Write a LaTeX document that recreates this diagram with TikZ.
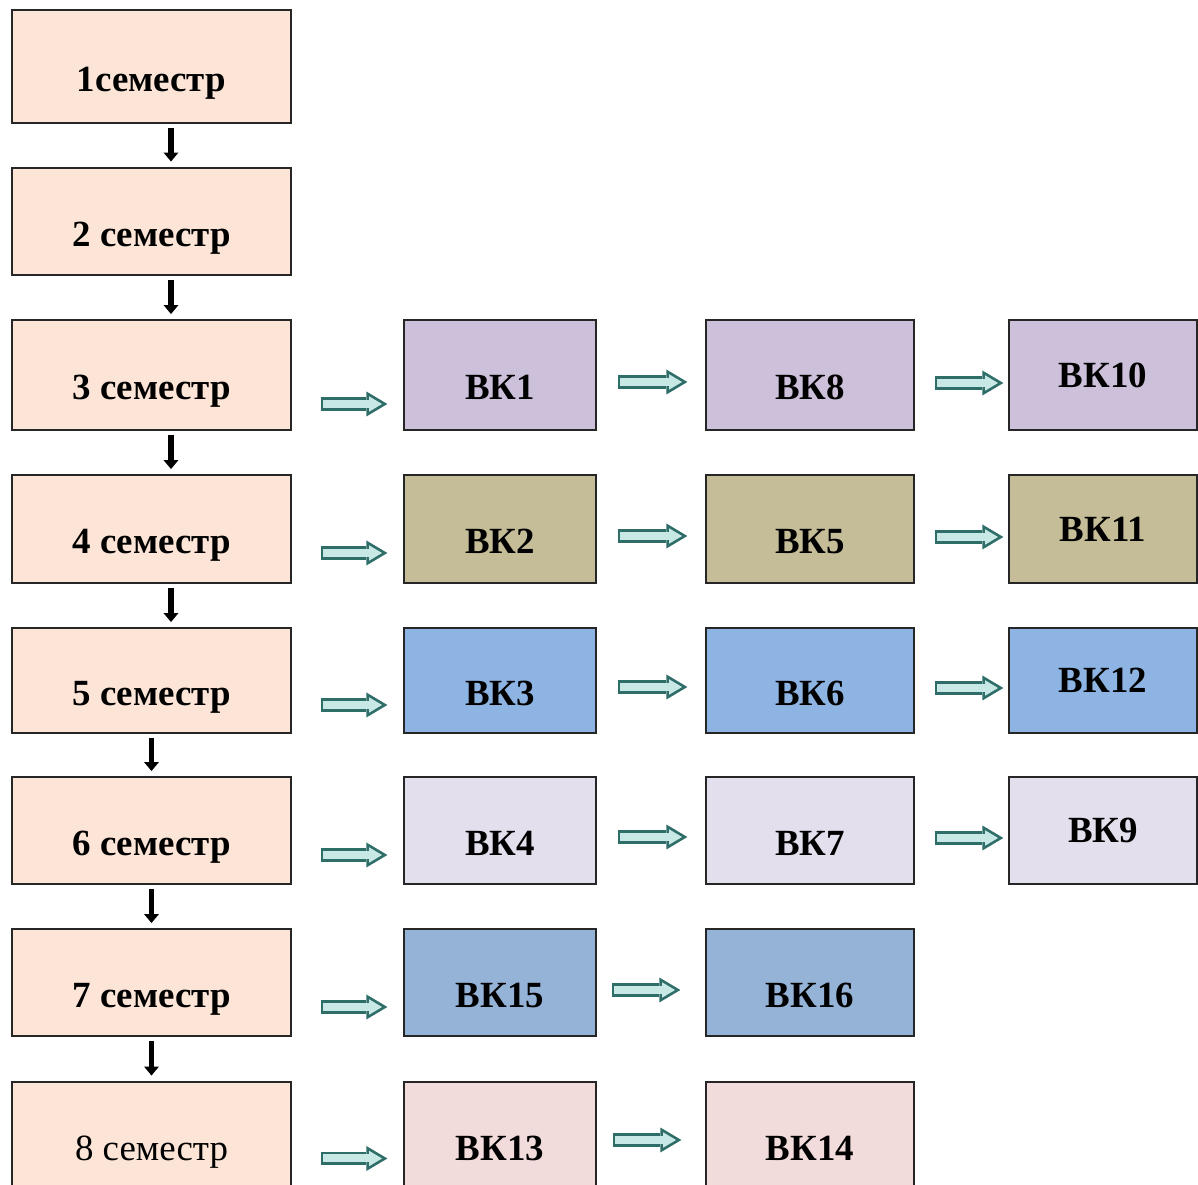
\documentclass[tikz,border=0pt]{standalone}
\usepackage{fontspec}
\setmainfont{Liberation Serif}
\usetikzlibrary{arrows.meta}

\definecolor{sempeach}{HTML}{FCE4D6}
\definecolor{vklilac}{HTML}{CCC0DA}
\definecolor{vkkhaki}{HTML}{C4BD97}
\definecolor{vkblue}{HTML}{8DB4E2}
\definecolor{vklavender}{HTML}{E4DFEC}
\definecolor{vksteel}{HTML}{95B3D7}
\definecolor{vkpink}{HTML}{F2DCDB}
\definecolor{flowedge}{HTML}{2F6D69}
\definecolor{flowfill}{HTML}{C8E8E6}

\tikzset{
  cell/.style={draw=black!85, line width=0.04cm, minimum height=2.16cm, inner sep=0pt,
    font=\fontsize{21}{25}\selectfont\bfseries},
  lowtext/.style={text height=1cm, text depth=0pt},
  semester/.style={cell, lowtext, fill=sempeach, minimum width=5.58cm},
  vkA/.style={cell, lowtext, minimum width=3.84cm},
  vkB/.style={cell, lowtext, minimum width=4.16cm},
  vkC/.style={cell, minimum width=3.76cm},
  semarrow/.style={line width=0.11cm, -{Triangle[length=0.18cm,width=0.3cm,line width=0pt]},
    shorten <=0.08cm, shorten >=0.1cm},
  flow/.style={draw=flowfill, line width=0.16cm,
    -{Triangle[length=0.26cm,width=0.31cm,line width=0pt]},
    preaction={draw=flowedge, line width=0.27cm, shorten <=-0.055cm, shorten >=-0.107cm,
      -{Triangle[length=0.42cm,width=0.5cm,line width=0pt]}}}
}

\begin{document}
\begin{tikzpicture}[x=0.02cm, y=-0.02cm]
\useasboundingbox (0,0) rectangle (1198,1185);

% semesters
\node[semester, minimum height=2.26cm] (s1) at (151.5,66.5) {1семестр};
\node[semester] (s2) at (151.5,221.5) {2 семестр};
\node[semester, minimum height=2.2cm] (s3) at (151.5,375) {3 семестр};
\node[semester] (s4) at (151.5,529) {4 семестр};
\node[semester, minimum height=2.1cm] (s5) at (151.5,680.5) {5 семестр};
\node[semester, minimum height=2.14cm] (s6) at (151.5,830.5) {6 семестр};
\node[semester, minimum height=2.14cm] (s7) at (151.5,982.5) {7 семестр};
\node[semester, font=\fontsize{21}{25}\selectfont] (s8) at (151.5,1135.5) {8 семестр};

\draw[semarrow] ([xshift=0.39cm]s1.south) -- ([xshift=0.39cm]s2.north);
\draw[semarrow] ([xshift=0.39cm]s2.south) -- ([xshift=0.39cm]s3.north);
\draw[semarrow] ([xshift=0.39cm]s3.south) -- ([xshift=0.39cm]s4.north);
\draw[semarrow] ([xshift=0.39cm]s4.south) -- ([xshift=0.39cm]s5.north);
\draw[semarrow] (s5.south) -- (s6.north);
\draw[semarrow] (s6.south) -- (s7.north);
\draw[semarrow] (s7.south) -- (s8.north);

% elective courses
\node[vkA, fill=vklilac, minimum height=2.2cm] (vk1) at (500,375) {ВК1};
\node[vkB, fill=vklilac, minimum height=2.2cm] (vk8) at (810,375) {ВК8};
\node[vkC, fill=vklilac, minimum height=2.2cm] (vk10) at (1103,375) {ВК10};

\node[vkA, fill=vkkhaki] (vk2) at (500,529) {ВК2};
\node[vkB, fill=vkkhaki] (vk5) at (810,529) {ВК5};
\node[vkC, fill=vkkhaki] (vk11) at (1103,529) {ВК11};

\node[vkA, fill=vkblue, minimum height=2.1cm] (vk3) at (500,680.5) {ВК3};
\node[vkB, fill=vkblue, minimum height=2.1cm] (vk6) at (810,680.5) {ВК6};
\node[vkC, fill=vkblue, minimum height=2.1cm] (vk12) at (1103,680.5) {ВК12};

\node[vkA, fill=vklavender, minimum height=2.14cm] (vk4) at (500,830.5) {ВК4};
\node[vkB, fill=vklavender, minimum height=2.14cm] (vk7) at (810,830.5) {ВК7};
\node[vkC, fill=vklavender, minimum height=2.14cm] (vk9) at (1103,830.5) {ВК9};

\node[vkA, fill=vksteel, minimum height=2.14cm] (vk15) at (500,982.5) {ВК15};
\node[vkB, fill=vksteel, minimum height=2.14cm] (vk16) at (810,982.5) {ВК16};

\node[vkA, fill=vkpink] (vk13) at (500,1135.5) {ВК13};
\node[vkB, fill=vkpink] (vk14) at (810,1135.5) {ВК14};

% semester -> first course
\draw[flow] ([xshift=0.63cm,yshift=-0.58cm]s3.east) -- ([xshift=-0.42cm,yshift=-0.58cm]vk1.west);
\draw[flow] ([xshift=0.63cm,yshift=-0.48cm]s4.east) -- ([xshift=-0.42cm,yshift=-0.48cm]vk2.west);
\draw[flow] ([xshift=0.63cm,yshift=-0.49cm]s5.east) -- ([xshift=-0.42cm,yshift=-0.49cm]vk3.west);
\draw[flow] ([xshift=0.63cm,yshift=-0.49cm]s6.east) -- ([xshift=-0.42cm,yshift=-0.49cm]vk4.west);
\draw[flow] ([xshift=0.63cm,yshift=-0.49cm]s7.east) -- ([xshift=-0.42cm,yshift=-0.49cm]vk15.west);
\draw[flow] ([xshift=0.63cm,yshift=-0.46cm]s8.east) -- ([xshift=-0.42cm,yshift=-0.46cm]vk13.west);

% course -> course
\draw[flow] ([xshift=0.47cm,yshift=-0.14cm]vk1.east) -- ([xshift=-0.46cm,yshift=-0.14cm]vk8.west);
\draw[flow] ([xshift=0.47cm,yshift=-0.14cm]vk2.east) -- ([xshift=-0.46cm,yshift=-0.14cm]vk5.west);
\draw[flow] ([xshift=0.47cm,yshift=-0.13cm]vk3.east) -- ([xshift=-0.46cm,yshift=-0.13cm]vk6.west);
\draw[flow] ([xshift=0.47cm,yshift=-0.13cm]vk4.east) -- ([xshift=-0.46cm,yshift=-0.13cm]vk7.west);
\draw[flow] ([xshift=0.35cm,yshift=-0.15cm]vk15.east) -- ([xshift=-0.6cm,yshift=-0.15cm]vk16.west);
\draw[flow] ([xshift=0.37cm,yshift=-0.09cm]vk13.east) -- ([xshift=-0.58cm,yshift=-0.09cm]vk14.west);

\draw[flow] ([xshift=0.45cm,yshift=-0.16cm]vk8.east) -- ([xshift=-0.2cm,yshift=-0.16cm]vk10.west);
\draw[flow] ([xshift=0.45cm,yshift=-0.16cm]vk5.east) -- ([xshift=-0.2cm,yshift=-0.16cm]vk11.west);
\draw[flow] ([xshift=0.45cm,yshift=-0.15cm]vk6.east) -- ([xshift=-0.2cm,yshift=-0.15cm]vk12.west);
\draw[flow] ([xshift=0.45cm,yshift=-0.15cm]vk7.east) -- ([xshift=-0.2cm,yshift=-0.15cm]vk9.west);

\end{tikzpicture}
\end{document}
